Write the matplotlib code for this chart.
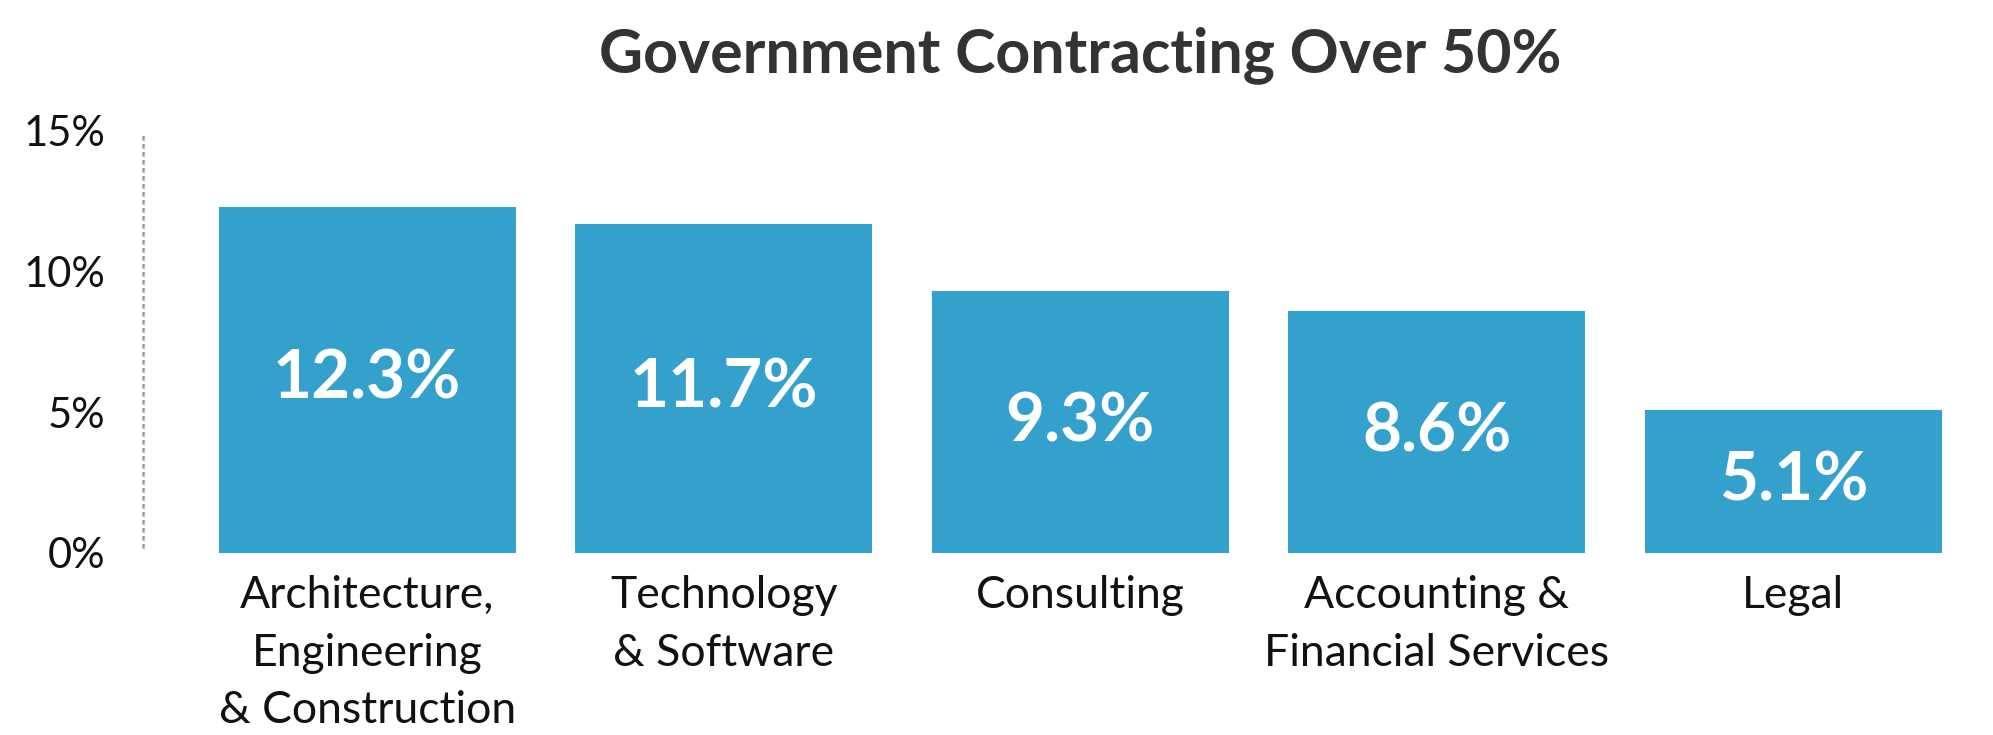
import matplotlib
matplotlib.use("Agg")
import matplotlib.pyplot as plt
from matplotlib import font_manager

# Chart data
categories = [
    "Architecture,\nEngineering\n& Construction",
    "Technology\n& Software",
    "Consulting",
    "Accounting &\nFinancial Services",
    "Legal",
]
values = [12.3, 11.7, 9.3, 8.6, 5.1]
y_ticks = [0, 5, 10, 15]
y_tick_labels = ["0%", "5%", "10%", "15%"]
title = "Government Contracting Over 50%"

BAR_COLOR = "#34a0cc"
TEXT_COLOR = "#111111"
TITLE_COLOR = "#333333"

names = {f.name for f in font_manager.fontManager.ttflist}
FONT = "Lato" if "Lato" in names else "DejaVu Sans"

plt.rcParams["font.family"] = [FONT, "DejaVu Sans"]

fig = plt.figure(figsize=(19.93, 7.35), dpi=100)
ax = fig.add_axes([143 / 1993, 182 / 735, (1942 - 143) / 1993, (604 - 182) / 735])

x = list(range(len(values)))
bars = ax.bar(x, values, width=0.834, color=BAR_COLOR, zorder=2)

ax.set_xlim(-0.629, 4.417)
ax.set_ylim(0, 15)

# value labels centred inside each bar
for xi, v in zip(x, values):
    ax.text(xi, v / 2, f"{v}%", ha="center", va="center", color="white",
            fontsize=48.5, fontweight="bold")

ax.set_yticks(y_ticks)
ax.set_yticklabels(y_tick_labels, fontsize=30, color=TEXT_COLOR, fontweight="normal")
ax.tick_params(axis="y", length=0, pad=27)

ax.set_xticks(x)
ax.set_xticklabels(categories, fontsize=32, color=TEXT_COLOR, fontweight="normal",
                   linespacing=1.5, va="top")
ax.tick_params(axis="x", length=0, pad=16)

for side in ["top", "right", "bottom"]:
    ax.spines[side].set_visible(False)
ax.spines["left"].set_color("#a0a0a0")
ax.spines["left"].set_linewidth(1.8)
ax.spines["left"].set_linestyle((0, (0.9, 2.3)))
ax.spines["left"].set_bounds(0.2, 15)

fig.text(1080 / 1993, (735 - 72) / 735, title, ha="center", va="baseline",
         fontsize=43.8, fontweight="bold", color=TITLE_COLOR)

fig.savefig("out.png", dpi=100, facecolor="white")
